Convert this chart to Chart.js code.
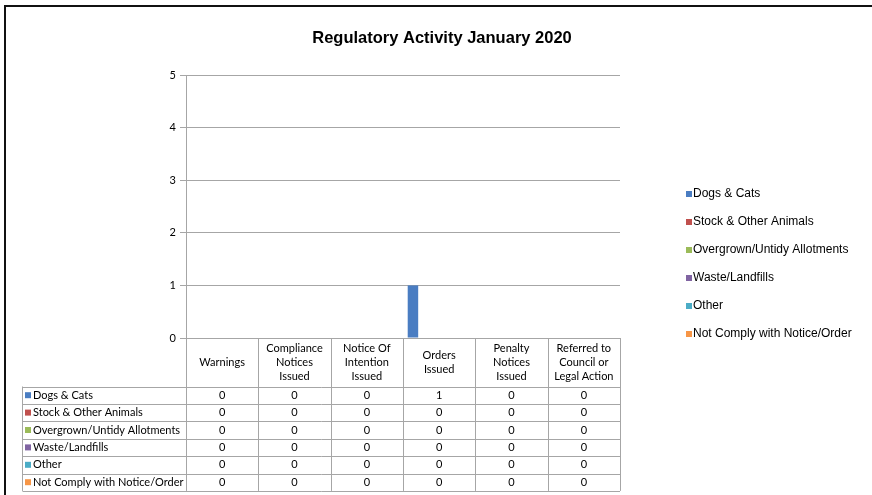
<!DOCTYPE html>
<html>
<head>
<meta charset="utf-8">
<script src="https://cdn.jsdelivr.net/npm/chart.js@4.4.1/dist/chart.umd.min.js"></script>
<style>
  body { margin: 0; background: #fff; }
  .frame { position: absolute; left: 4px; top: 5px; width: 868px; height: 490px;
           border-top: 2px solid #111; border-left: 2px solid #111; }
  .wrap { position: absolute; left: 0; top: 0; width: 872px; height: 495px; }
</style>
</head>
<body>
<div class="frame"></div>
<div class="wrap"><canvas id="regChart"></canvas></div>
<script>
const chartTitle = 'Regulatory Activity January 2020';
const categories = [
    'Warnings',
    ['Compliance', 'Notices', 'Issued'],
    ['Notice Of', 'Intention', 'Issued'],
    ['Orders', 'Issued'],
    ['Penalty', 'Notices', 'Issued'],
    ['Referred to', 'Council or', 'Legal Action']
];
const seriesNames = ['Dogs & Cats', 'Stock & Other Animals', 'Overgrown/Untidy Allotments',
    'Waste/Landfills', 'Other', 'Not Comply with Notice/Order'];
const dogsCats = [0, 0, 0, 1, 0, 0];
const stockAnimals = [0, 0, 0, 0, 0, 0];
const overgrown = [0, 0, 0, 0, 0, 0];
const wasteLandfills = [0, 0, 0, 0, 0, 0];
const other = [0, 0, 0, 0, 0, 0];
const notComply = [0, 0, 0, 0, 0, 0];
const seriesColors = ['#4A7DC2', '#C0504D', '#9BBB59', '#8064A2', '#4BACC6', '#F79646'];

const allSeries = [dogsCats, stockAnimals, overgrown, wasteLandfills, other, notComply];
const tableFont = '11px Lato';
const gridGray = '#A6A6A6';

// cylinder-ish shading for the blue bars, like the Excel original
function barFill(context) {
    const bar = context.element;
    if (!bar || bar.width === undefined || isNaN(bar.x)) return seriesColors[0];
    const g = context.chart.ctx.createLinearGradient(bar.x - bar.width / 2, 0, bar.x + bar.width / 2, 0);
    g.addColorStop(0, '#3262A6');
    g.addColorStop(0.4, '#5B90D8');
    g.addColorStop(1, '#2F5D9E');
    return g;
}

const tablePlugin = {
    id: 'dataTable',
    afterDraw(chart) {
        const ctx = chart.ctx;
        const area = chart.chartArea;
        const colW = area.width / categories.length;
        const headTop = area.bottom;
        const headBottom = 386.5;
        const rowH = 17.4;
        const labelLeft = 22.5;
        const bottom = headBottom + rowH * seriesNames.length;

        ctx.save();
        // title
        ctx.fillStyle = '#000';
        ctx.font = 'bold 16.5px "Liberation Sans", Arial';
        ctx.textAlign = 'center';
        ctx.textBaseline = 'middle';
        ctx.fillText(chartTitle, 442, 38);

        ctx.strokeStyle = gridGray;
        ctx.lineWidth = 1;
        ctx.beginPath();
        // column lines
        for (let c = 0; c <= categories.length; c++) {
            const x = Math.round(area.left + c * colW) + 0.5;
            ctx.moveTo(x, headTop);
            ctx.lineTo(x, bottom);
        }
        ctx.moveTo(labelLeft, headBottom);
        ctx.lineTo(labelLeft, bottom);
        // row lines
        for (let r = 0; r <= seriesNames.length; r++) {
            const y = Math.round(headBottom + r * rowH) + 0.5;
            ctx.moveTo(labelLeft, y);
            ctx.lineTo(area.right, y);
        }
        ctx.stroke();

        ctx.fillStyle = '#000';
        ctx.font = tableFont;
        categories.forEach((cat, c) => {
            const lines = Array.isArray(cat) ? cat : [cat];
            const cx = area.left + (c + 0.5) * colW;
            const mid = (headTop + headBottom) / 2;
            lines.forEach((t, k) => {
                ctx.fillText(t, cx, mid + (k - (lines.length - 1) / 2) * 14);
            });
        });

        seriesNames.forEach((name, r) => {
            const cy = headBottom + (r + 0.5) * rowH;
            ctx.fillStyle = seriesColors[r];
            ctx.fillRect(25, cy - 3, 6, 6);
            ctx.fillStyle = '#000';
            ctx.textAlign = 'left';
            ctx.fillText(name, 33, cy);
            ctx.textAlign = 'center';
            allSeries[r].forEach((v, c) => {
                ctx.fillText(String(v), area.left + (c + 0.5) * colW, cy);
            });
        });

        // legend on the right
        ctx.font = '12px "Liberation Sans", Arial';
        ctx.textAlign = 'left';
        seriesNames.forEach((name, r) => {
            const y = 194 + r * 28;
            ctx.fillStyle = seriesColors[r];
            ctx.fillRect(686, y - 3, 6, 6);
            ctx.fillStyle = '#000';
            ctx.fillText(name, 693, y);
        });
        ctx.restore();
    }
};

const ctx = document.getElementById('regChart').getContext('2d');
const myChart = new Chart(ctx, {
    type: 'bar',
    data: {
        labels: categories,
        datasets: seriesNames.map((name, i) => ({
            label: name,
            data: allSeries[i],
            backgroundColor: i === 0 ? barFill : seriesColors[i],
            borderWidth: 0,
            categoryPercentage: 0.87,
            barPercentage: 1
        }))
    },
    options: {
        responsive: true,
        maintainAspectRatio: false,
        animation: false,
        layout: { padding: { left: 156, right: 252, top: 75, bottom: 157 } },
        plugins: {
            legend: { display: false },
            tooltip: { enabled: false },
            title: { display: false }
        },
        scales: {
            x: { display: false },
            y: {
                min: 0,
                max: 5,
                ticks: { stepSize: 1, color: '#000', font: { family: 'Lato', size: 11 }, padding: 4 },
                grid: { color: gridGray, tickLength: 6, lineWidth: 1 },
                border: { color: gridGray },
                afterFit(scale) { scale.width = 30; }
            }
        }
    },
    plugins: [tablePlugin]
});
</script>
</body>
</html>
